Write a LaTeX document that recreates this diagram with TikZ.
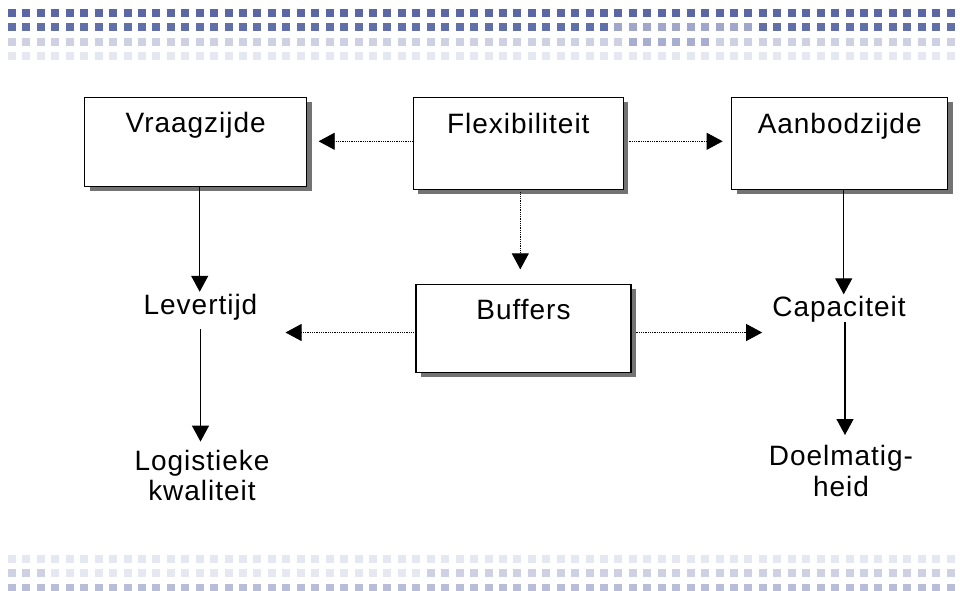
\documentclass[tikz,border=0pt]{standalone}
\usepackage{fontspec}
\newfontfamily\slidefont[LetterSpace=3.5]{Liberation Sans}
\usetikzlibrary{arrows.meta}
\usetikzlibrary{calc}
\usetikzlibrary{shadows}
\tikzset{>={Triangle[length=16pt,width=17pt]}}

\definecolor{banddark}{HTML}{5A67A4}
\definecolor{bandblue}{HTML}{6270AA}
\definecolor{bandmid}{HTML}{A0A7CA}
\definecolor{bandmidlight}{HTML}{A8AED0}
\definecolor{bandlight}{HTML}{CED1E4}
\definecolor{bandpale}{HTML}{E6E8F1}
\definecolor{bandlow}{HTML}{B8BDD8}

\tikzset{
  box/.style={draw=black, line width=1.3pt, fill=white, inner sep=0pt,
    text height=20pt, text depth=39pt,
    general shadow={fill=black!55, shadow xshift=5pt, shadow yshift=-4.3pt}},
  plain/.style={inner sep=0pt, align=center},
  solidarrow/.style={->, line width=1.2pt},
  dotarrow/.style={->, line width=0.8pt, densely dotted}
}

\begin{document}
\begin{tikzpicture}[x=1pt, y=-1pt, font=\slidefont\fontsize{28}{30.5}\selectfont]

    \useasboundingbox (0,0) rectangle (960,590);

    % bands of squares, top and bottom
    \begin{scope}
    \clip (0,0) rectangle (960,590);
    \foreach \i in {0,...,65} {
        \pgfmathsetmacro\xx{8+14.44*\i}
        \fill[banddark] (\xx,9) rectangle ++(8,8);
        \fill[bandblue] (\xx,23) rectangle ++(8,8);
        \fill[bandlight] (\xx,38) rectangle ++(8,8);
        \fill[bandpale] (\xx,52) rectangle ++(8,8);
        \fill[bandpale] (\xx,555) rectangle ++(8,8);
        \fill[bandpale] (\xx,569) rectangle ++(8,8);
        \fill[bandlow] (\xx,584) rectangle ++(8,8);
    }
    \foreach \i in {42,...,51}
        \fill[bandmid] (8+14.44*\i,23) rectangle ++(8,8);
    \foreach \i in {43,...,48}
        \fill[bandmidlight] (8+14.44*\i,38) rectangle ++(8,8);
    \foreach \i in {0,1,2,29,30,...,65}
        \fill[bandlight] (8+14.44*\i,569) rectangle ++(8,8);
    \end{scope}

    \node[box, minimum width=222pt, minimum height=89.4pt] (vraag) at (195.7,142) {Vraagzijde};
    \node[box, minimum width=210pt, minimum height=92pt] (flex) at (518.3,143.3) {Flexibiliteit};
    \node[box, minimum width=216pt, minimum height=92pt] (aanbod) at (839.7,143.2) {Aanbodzijde};
    \node[box, minimum width=215pt, minimum height=88.4pt] (buffers) at (523.5,328.5) {Buffers};

    \node[plain, anchor=base, text height=20pt, text depth=6pt] (levertijd) at (200.5,314) {Levertijd};
    \node[plain, anchor=base, text height=20pt, text depth=6pt] (capaciteit) at (839,316) {Capaciteit};
    \node[plain, anchor=north] (kwaliteit) at (202,449.6) {Logistieke\\kwaliteit};
    \node[plain, anchor=north] (doelmatig) at (841,445.3) {Doelmatig-\\heid};

    \draw[solidarrow, shorten >=2pt] ($(vraag.south)+(4,0)$) -- ($(vraag.south |- levertijd.north)+(4,0)$);
    \draw[solidarrow, shorten >=1.5pt] ($(aanbod.south)+(4,0)$) -- ($(aanbod.south |- capaciteit.north)+(4,0)$);
    \draw[solidarrow, shorten <=9pt, shorten >=8pt] (levertijd.south) -- (levertijd.south |- kwaliteit.north);
    \draw[solidarrow, shorten >=10.3pt] ($(capaciteit.south)+(6,0)$) -- ($(capaciteit.south |- doelmatig.north)+(6,0)$);

    \draw[dotarrow, shorten >=11.3pt] ($(flex.west)+(0,-2)$) -- ($(flex.west -| vraag.east)+(0,-2)$);
    \draw[dotarrow, shorten <=4.7pt, shorten >=8.4pt] ($(flex.east)+(0,-2)$) -- ($(flex.east -| aanbod.west)+(0,-2)$);
    \draw[dotarrow, shorten <=2.5pt, shorten >=14.3pt] ($(flex.south)+(2,0)$) -- ($(flex.south |- buffers.north)+(2,0)$);
    \draw[dotarrow, shorten >=28pt] ($(buffers.west)+(0,4)$) -- ($(buffers.west -| levertijd.east)+(0,4)$);
    \draw[dotarrow, shorten <=4pt, shorten >=10pt] ($(buffers.east)+(0,4)$) -- ($(buffers.east -| capaciteit.west)+(0,4)$);

\end{tikzpicture}
\end{document}
